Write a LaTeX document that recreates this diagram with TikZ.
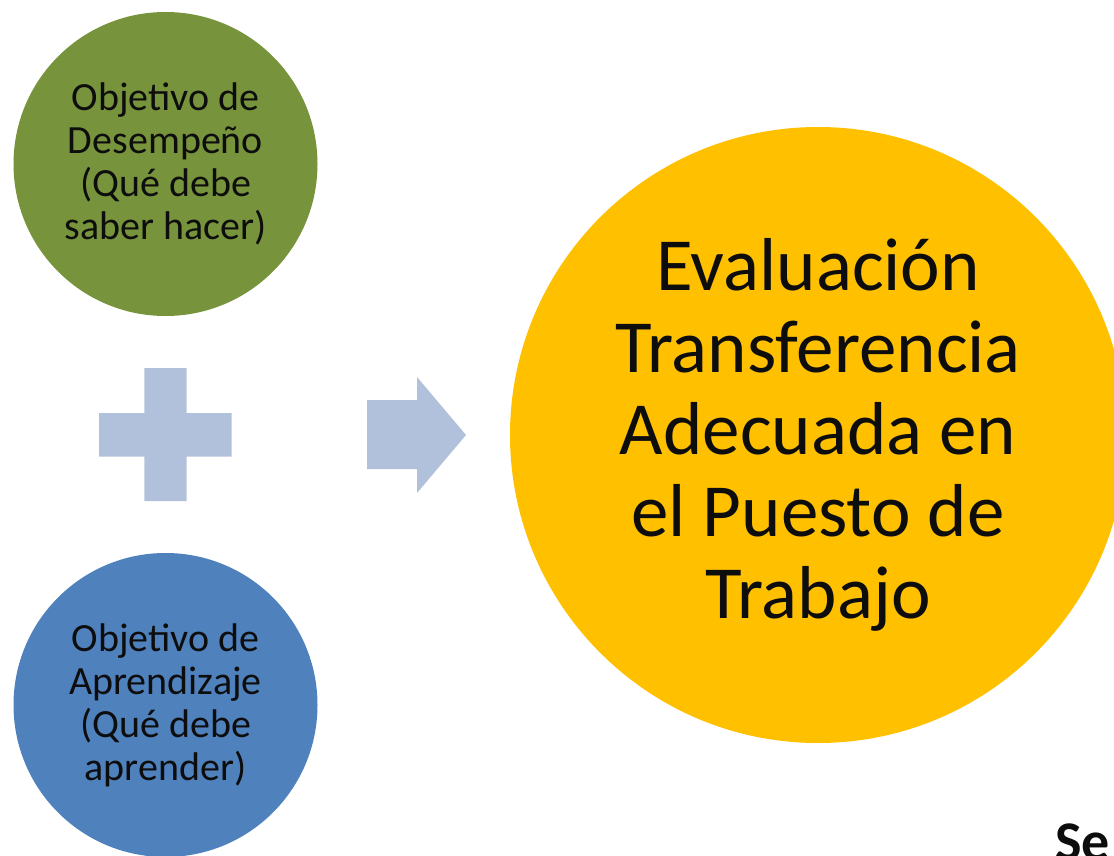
\documentclass[tikz,border=0pt]{standalone}
\usepackage{fontspec}
\setmainfont{Carlito}
\usepackage{tikz}
\definecolor{verdeObj}{HTML}{77933C}
\definecolor{azulObj}{HTML}{4F81BD}
\definecolor{amarilloEval}{HTML}{FFC000}
\definecolor{celeste}{HTML}{B2C1DB}
\definecolor{tinta}{HTML}{0D0D0D}

\begin{document}
\begin{tikzpicture}[x=1pt,y=-1pt,
    objetivo/.style={circle, minimum size=304pt, inner sep=0pt, align=center,
        text=tinta, font=\fontsize{40}{43}\selectfont},
    evaluacion/.style={circle, fill=amarilloEval, minimum size=616pt, inner sep=0pt,
        align=center, text=tinta, font=\fontsize{75}{82}\selectfont}]
    \useasboundingbox (0,0) rectangle (1114,856);
    \clip (0,0) rectangle (1114,856);
    \def\plusV{(144.3,368) rectangle (186.7,501)}
    \def\plusH{(99,413) rectangle (231.7,456.7)}
    \node[objetivo, fill=verdeObj] (desempeno) at (165.5,164)
        {Objetivo de\\Desempeño\\(Qué debe\\saber hacer)};
    \node[objetivo, fill=azulObj] (aprendizaje) at (165.5,705)
        {Objetivo de\\Aprendizaje\\(Qué debe\\aprender)};
    \fill[celeste] \plusV \plusH;
    \fill[celeste] (367,400) -- (417,400) -- (417,377) -- (466,435)
        -- (417,493) -- (417,469) -- (367,469) -- cycle;
    \node[evaluacion] (transferencia) at (818,435)
        {Evaluación\\Transferencia\\Adecuada en\\el Puesto de\\Trabajo};
    \node[anchor=base west, text=tinta, font=\fontsize{56}{64}\selectfont\bfseries,
        inner sep=0pt] (pie) at (1055,860) {Se};
\end{tikzpicture}
\end{document}
